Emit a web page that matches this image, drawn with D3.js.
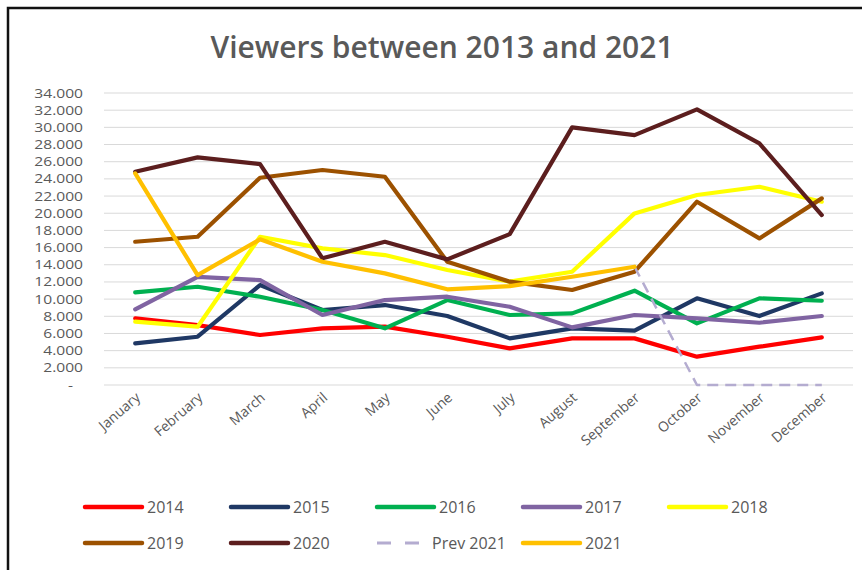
<!DOCTYPE html>
<html>
<head>
<meta charset="utf-8">
<script src="https://cdn.jsdelivr.net/npm/d3@7"></script>
<style>
  body { margin: 0; background: #fff; }
  text { font-family: "Open Sans", "Liberation Sans", sans-serif; fill: #595959; }
</style>
</head>
<body>
<div id="chart"></div>
<script>
// Data (values are viewers)
const months = ["January", "February", "March", "April", "May", "June", "July",
  "August", "September", "October", "November", "December"];
const yTicks = [0, 2000, 4000, 6000, 8000, 10000, 12000, 14000, 16000, 18000,
  20000, 22000, 24000, 26000, 28000, 30000, 32000, 34000];

const v2014 = [7760, 6980, 5820, 6600, 6790, 5620, 4270, 5430, 5430, 3300, 4460, 5550];
const v2015 = [4850, 5620, 11640, 8730, 9310, 8030, 5430, 6600, 6320, 10090, 8030, 10670];
const v2016 = [10790, 11440, 10280, 8730, 6600, 9890, 8150, 8340, 10980, 7180, 10090, 9810];
const v2017 = [8810, 12600, 12220, 8150, 9890, 10280, 9110, 6710, 8150, 7760, 7250, 8030];
const v2018 = [7370, 6790, 17260, 15910, 15130, 13390, 12030, 13190, 19980, 22120, 23080, 21340];
const v2019 = [16680, 17260, 24130, 25030, 24250, 14350, 12030, 11060, 13190, 21340, 17070, 21730];
const v2020 = [24830, 26500, 25720, 14750, 16680, 14630, 17570, 30000, 29100, 32090, 28130, 19790];
const vPrev2021 = [null, null, null, null, null, null, null, null, 13770, 0, 0, 0];
const v2021 = [24640, 12800, 16960, 14350, 13000, 11140, 11520, 12600, 13770, null, null, null];

const seriesNames = ["2014", "2015", "2016", "2017", "2018", "2019", "2020", "Prev 2021", "2021"];
const seriesValues = [v2014, v2015, v2016, v2017, v2018, v2019, v2020, vPrev2021, v2021];
const seriesColors = ["#ff0000", "#1f3864", "#00b050", "#8064a2", "#ffff00", "#9c5100", "#5c1e1e", "#b4acd0", "#ffc000"];

const W = 862, H = 570;
const margin = { top: 93, right: 9, bottom: 185, left: 104 };
const width = W - margin.left - margin.right;
const height = H - margin.top - margin.bottom;

const svg = d3.select("#chart").append("svg")
  .attr("width", W)
  .attr("height", H);

svg.append("rect").attr("width", W).attr("height", H).attr("fill", "#fff");

// frame edges (only top and left show in the picture)
svg.append("path")
  .attr("d", `M8,${H} L8,8 L${W},8`)
  .attr("fill", "none")
  .attr("stroke", "#111")
  .attr("stroke-width", 2.5);

svg.append("text")
  .attr("x", 442)
  .attr("y", 58)
  .attr("text-anchor", "middle")
  .style("font-size", "30px")
  .style("font-weight", "600")
  .text("Viewers between 2013 and 2021");

const g = svg.append("g").attr("transform", `translate(${margin.left},${margin.top})`);

const x = d3.scaleBand().domain(months).range([0, width]);
const y = d3.scaleLinear().domain([0, 34000]).range([height, 0]);

// gridlines
g.append("g")
  .selectAll("line")
  .data(yTicks)
  .join("line")
  .attr("x1", 0)
  .attr("x2", width)
  .attr("y1", (d) => y(d))
  .attr("y2", (d) => y(d))
  .attr("stroke", "#d9d9d9")
  .attr("stroke-width", 1);

// y axis labels, dot as thousands separator, dash for zero
// (the reference text is stretched sideways, hence the scale)
const fmt = (d) => d === 0 ? "-" : d3.format(",")(d).replace(",", ".");
const yAxis = g.append("g")
  .attr("transform", "translate(-21,0) scale(1.25,1)")
  .call(d3.axisLeft(y).tickValues(yTicks).tickFormat(fmt).tickSize(0).tickPadding(0));
yAxis.select(".domain").remove();
yAxis.selectAll("text")
  .attr("fill", "#595959")
  .attr("x", (d) => d === 0 ? -8 : 0)
  .style("font-size", "12.5px")
  .style("font-family", "'Open Sans', sans-serif");

// x axis labels
g.append("g")
  .selectAll("text")
  .data(months)
  .join("text")
  .attr("transform", (d) => `translate(${x(d) + x.bandwidth() / 2 + 6},${height + 14}) rotate(-41)`)
  .attr("text-anchor", "end")
  .style("font-size", "14px")
  .text((d) => d);

const line = d3.line()
  .defined((d) => d != null)
  .x((d, i) => x(months[i]) + x.bandwidth() / 2)
  .y((d) => y(d));

seriesValues.forEach((vals, i) => {
  const isPrev = seriesNames[i] === "Prev 2021";
  g.append("path")
    .datum(vals)
    .attr("fill", "none")
    .attr("stroke", seriesColors[i])
    .attr("stroke-width", isPrev ? 2.5 : 4.2)
    .attr("stroke-dasharray", isPrev ? "11,7" : null)
    .attr("stroke-linejoin", "round")
    .attr("stroke-linecap", isPrev ? "butt" : "round")
    .attr("d", line);
});

// legend, 5 columns, 2 rows
const legend = svg.append("g");
seriesNames.forEach((name, i) => {
  const isPrev = name === "Prev 2021";
  const col = i % 5;
  const lx = 85 + col * 146;
  const ly = i < 5 ? 507 : 543;
  legend.append("line")
    .attr("x1", lx)
    .attr("x2", lx + 57)
    .attr("y1", ly)
    .attr("y2", ly)
    .attr("stroke", seriesColors[i])
    .attr("stroke-width", isPrev ? 3 : 4.5)
    .attr("stroke-dasharray", isPrev ? "14,14" : null)
    .attr("stroke-linecap", isPrev ? "butt" : "round");
  legend.append("text")
    .attr("x", lx + (isPrev ? 55 : 62))
    .attr("y", ly)
    .attr("dy", "0.35em")
    .style("font-size", "16px")
    .text(name);
});
</script>
</body>
</html>
